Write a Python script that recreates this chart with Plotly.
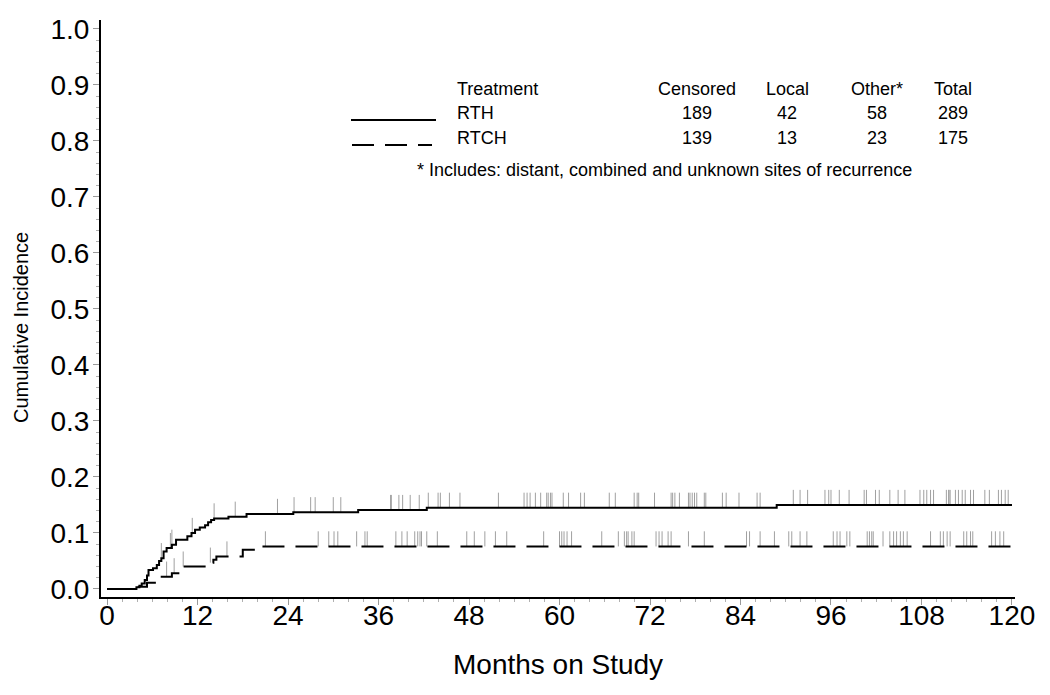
import numpy as np
import plotly.graph_objects as go

# ---------------- data ----------------
rth_time = [0, 3.9, 4.3, 4.6, 5.0, 5.3, 5.5, 6.1, 6.6, 6.9, 7.2, 7.5, 7.9, 8.6, 9.15,
            10.65, 11.2, 11.67, 12.3, 13.0, 13.4, 13.8, 14.2, 16.1, 18.5, 24.7, 33.3,
            42.4, 88.8, 120]
rth_cif = [0, 0.003, 0.006, 0.010, 0.016, 0.024, 0.034, 0.037, 0.043, 0.050, 0.055,
           0.067, 0.073, 0.079, 0.088, 0.094, 0.100, 0.106, 0.110, 0.114, 0.119, 0.123,
           0.126, 0.129, 0.134, 0.137, 0.141, 0.145, 0.150, 0.150]

rtch_time = [0, 3.8, 5.3, 6.9, 8.6, 9.7, 13.4, 14.1, 14.5, 18.0, 20.6, 120]
rtch_cif = [0, 0.004, 0.011, 0.022, 0.028, 0.040, 0.047, 0.052, 0.058, 0.070, 0.076, 0.076]

rth_censor = [7.2, 8.4, 8.6, 11.3, 14.2, 17.0, 22.6, 24.8, 27.0, 27.6, 30.0, 31.0, 37.6,
              37.7, 38.7, 39.2, 40.2, 41.4, 42.6, 43.9, 44.2, 45.4, 46.8, 51.9, 55.3,
              55.7, 56.1, 56.8, 57.5, 58.3, 58.5, 58.8, 59.0, 60.5, 61.2, 62.8, 63.3,
              66.6, 67.4, 69.9, 70.3, 70.5, 72.6, 74.8, 75.0, 75.3, 75.9, 77.1, 77.3,
              77.6, 77.9, 78.2, 79.2, 79.4, 81.6, 82.1, 83.8, 86.2, 86.6, 91.0, 91.9,
              92.9, 95.2, 95.7, 96.0, 97.1, 98.4, 100.4, 100.7, 101.9, 102.4, 103.8,
              104.9, 105.8, 107.8, 108.3, 108.7, 109.2, 109.6, 111.3, 111.6, 111.65,
              111.8, 112.5, 112.9, 113.4, 113.8, 114.5, 114.9, 116.4, 117.0, 118.2,
              118.6, 119.1, 119.5]
rtch_censor = [7.9, 8.9, 10.1, 13.7, 15.9, 21.0, 28.0, 29.4, 30.1, 30.6, 33.1, 34.2, 34.5,
               38.3, 39.1, 39.8, 40.8, 41.2, 41.5, 41.7, 42.4, 43.8, 47.7, 48.7, 50.1,
               51.5, 53.0, 57.9, 60.0, 60.3, 60.6, 61.0, 61.6, 65.6, 67.8, 68.6, 68.9,
               69.1, 69.6, 69.9, 72.8, 73.2, 73.6, 74.4, 74.8, 77.1, 79.2, 84.8, 85.2,
               86.6, 88.5, 90.4, 90.8, 91.9, 92.8, 96.3, 96.8, 97.2, 98.1, 98.5, 100.8,
               101.1, 101.4, 101.6, 102.9, 103.8, 104.3, 104.7, 105.2, 105.6, 106.1,
               109.2, 110.5, 110.9, 111.4, 111.8, 113.6, 114.0, 114.5, 114.8, 117.3,
               117.8, 118.4, 118.9]

x_ticks = [0, 12, 24, 36, 48, 60, 72, 84, 96, 108, 120]
y_ticks = [0.0, 0.1, 0.2, 0.3, 0.4, 0.5, 0.6, 0.7, 0.8, 0.9, 1.0]

table_header = ["Treatment", "Censored", "Local", "Other*", "Total"]
table_rows = [["RTH", "189", "42", "58", "289"],
              ["RTCH", "139", "13", "23", "175"]]
footnote = "* Includes: distant, combined and unknown sites of recurrence"

x_title = "Months on Study"
y_title = "Cumulative Incidence"

# ---------------- layout geometry ----------------
# page body has an 8px default margin; plot area in page pixels: x 101..1015, y 20..597
OFF = 8
W, H = 1050 - 2 * OFF, 695 - 2 * OFF
PL, PR, PT, PB = 101, 1015, 20, 597
L, T = PL - OFF, PT - OFF
R, B = W - (PR - OFF), H - (PB - OFF)
FONT = "Liberation Sans, Arial, Helvetica, sans-serif"
TICK_H = 0.027
DASH = "22px,11px"


def px(x):
    return (x - PL) / (PR - PL)


def py(y):
    return (PB - y) / (PB - PT)


def censor_segments(times, cif, cens):
    t = np.asarray(times)
    v = np.asarray(cif)
    xs, ys = [], []
    for c in cens:
        i = np.searchsorted(t, c, side="right") - 1
        base = v[max(i, 0)]
        xs += [c, c, None]
        ys += [base, base + TICK_H, None]
    return xs, ys


fig = go.Figure()

for times, cif, cens in [(rth_time, rth_cif, rth_censor), (rtch_time, rtch_cif, rtch_censor)]:
    cx, cy = censor_segments(times, cif, cens)
    fig.add_trace(go.Scatter(x=cx, y=cy, mode="lines",
                             line=dict(color="#a0a0a0", width=1),
                             hoverinfo="skip", showlegend=False))

fig.add_trace(go.Scatter(x=rth_time, y=rth_cif, mode="lines", line_shape="hv",
                         line=dict(color="black", width=2), name="RTH", showlegend=False))
fig.add_trace(go.Scatter(x=rtch_time, y=rtch_cif, mode="lines", line_shape="hv",
                         line=dict(color="black", width=2, dash=DASH), name="RTCH",
                         showlegend=False))

# ---------------- annotations (legend table) ----------------
ann = []
col_x = [455, 697, 787, 877, 953]
row_y = [89, 113, 138]
for j, h in enumerate(table_header):
    ann.append(dict(x=px(col_x[j]), y=py(row_y[0]), text=h,
                    xanchor="left" if j == 0 else "center"))
for r, row in enumerate(table_rows):
    for j, val in enumerate(row):
        ann.append(dict(x=px(col_x[j]), y=py(row_y[r + 1]), text=val,
                        xanchor="left" if j == 0 else "center"))
ann.append(dict(x=px(664), y=py(170), text=footnote, xanchor="center"))
annotations = []
for a in ann:
    a.update(xref="paper", yref="paper", yanchor="middle", showarrow=False,
             font=dict(family=FONT, size=18, color="black"))
    annotations.append(a)

annotations.append(dict(x=0.5, y=py(665), xref="paper", yref="paper", text=x_title,
                        showarrow=False, xanchor="center", yanchor="middle",
                        font=dict(family=FONT, size=28, color="black")))
annotations.append(dict(x=px(21), y=py(328), xref="paper", yref="paper", text=y_title,
                        showarrow=False, xanchor="center", yanchor="middle", textangle=-90,
                        font=dict(family=FONT, size=20, color="black")))

shapes = [
    dict(type="line", xref="paper", yref="paper", x0=px(351), x1=px(436),
         y0=py(120), y1=py(120), line=dict(color="black", width=2)),
    dict(type="line", xref="paper", yref="paper", x0=px(352), x1=px(432),
         y0=py(145), y1=py(145), line=dict(color="black", width=2, dash=DASH)),
]

fig.update_layout(
    width=W, height=H,
    margin=dict(l=L, r=R, t=T, b=B, autoexpand=False),
    paper_bgcolor="white", plot_bgcolor="white",
    font=dict(family=FONT, color="black"),
    annotations=annotations, shapes=shapes,
    showlegend=False,
    xaxis=dict(range=[-0.8, 120.4], tickvals=x_ticks, ticktext=[str(v) for v in x_ticks],
               showgrid=False, zeroline=False, showline=True, linecolor="black", linewidth=2,
               ticks="outside", ticklen=6, tickcolor="#9a9a9a", tickwidth=1,
               ticklabelstandoff=-14,
               tickfont=dict(family=FONT, size=28, color="black"),
               minor=dict(dtick=2, tick0=0, ticks="outside", ticklen=3,
                          tickcolor="#b0b0b0", tickwidth=1, showgrid=False)),
    yaxis=dict(range=[-0.0143, 1.016], tickvals=y_ticks,
               ticktext=[f"{v:.1f}" for v in y_ticks],
               showgrid=False, zeroline=False, showline=True, linecolor="black", linewidth=2,
               ticks="outside", ticklen=6, tickcolor="#9a9a9a", tickwidth=1,
               ticklabelstandoff=-2,
               tickfont=dict(family=FONT, size=28, color="black"),
               minor=dict(dtick=0.02, tick0=0, ticks="outside", ticklen=3,
                          tickcolor="#b0b0b0", tickwidth=1, showgrid=False)),
)

fig.write_html("out.html")
